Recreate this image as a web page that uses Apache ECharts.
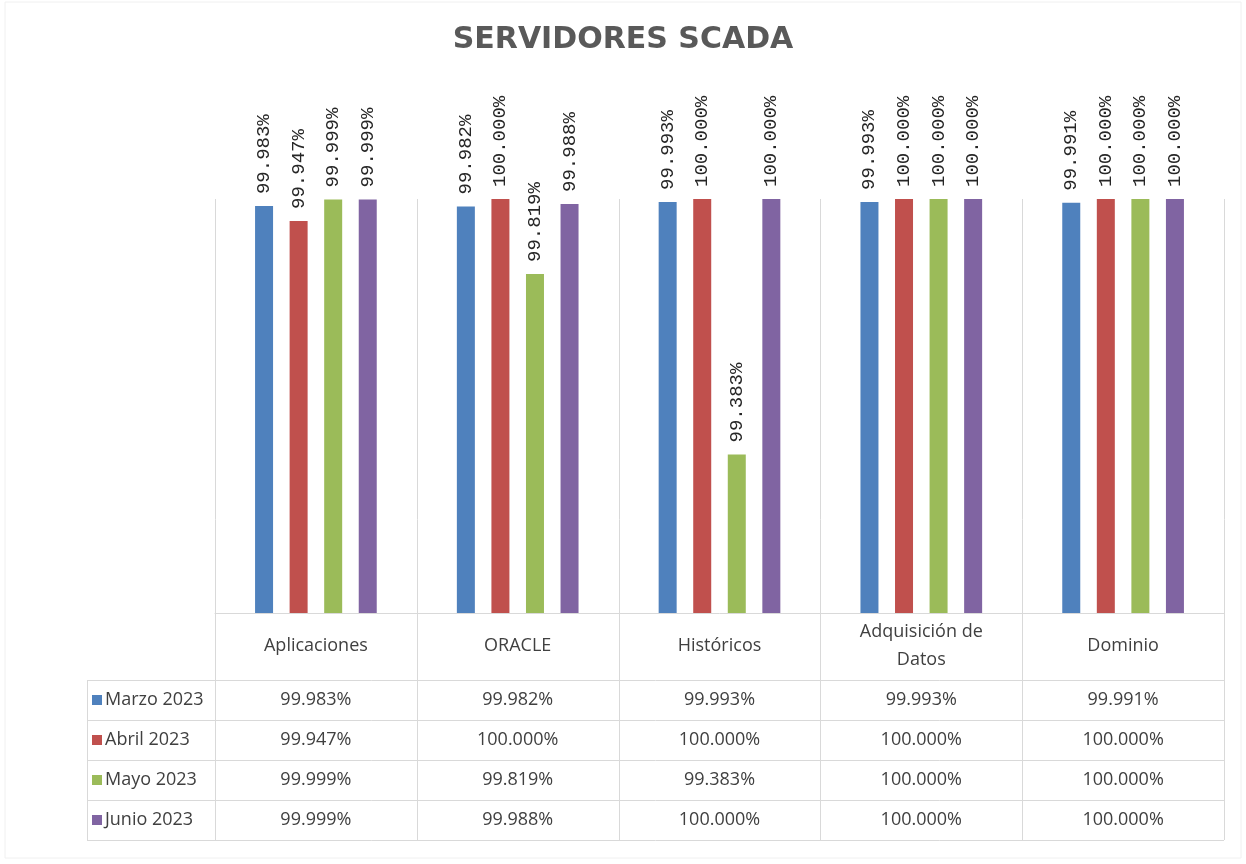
<!DOCTYPE html>
<html><head><meta charset="utf-8">
<script src="https://cdn.jsdelivr.net/npm/echarts@6/dist/echarts.min.js"></script>
<style>html,body{margin:0;padding:0;background:#fff}#c{width:1246px;height:864px}</style>
</head><body><div id="c"></div>
<script>
const categories = ['Aplicaciones', 'ORACLE', 'Históricos', 'Adquisición de\nDatos', 'Dominio'];
const seriesNames = ['Marzo 2023', 'Abril 2023', 'Mayo 2023', 'Junio 2023'];
const marzo = [99.983, 99.982, 99.993, 99.993, 99.991];
const abril = [99.947, 100.000, 100.000, 100.000, 100.000];
const mayo  = [99.999, 99.819, 99.383, 100.000, 100.000];
const junio = [99.999, 99.988, 100.000, 100.000, 100.000];
const colors = ['#4F81BD', '#C0504D', '#9BBB59', '#8064A2'];
const allSeries = [marzo, abril, mayo, junio];

const fmt = v => v.toFixed(3) + '%';
const chart = echarts.init(document.getElementById('c'));
const GL = 215, GR = 22, GT = 199, GB = 251;
const W = 1246, H = 864;

chart.setOption({
  animation: false,
  title: {
    text: 'SERVIDORES SCADA', left: 'center', top: 20,
    textStyle: { fontFamily: 'DejaVu Sans', fontWeight: 'bold', fontSize: 30, color: '#595959' }
  },
  grid: { left: GL, right: GR, top: GT, bottom: GB },
  xAxis: {
    type: 'category', data: categories,
    axisLine: { show: true, lineStyle: { color: '#d9d9d9' } },
    axisTick: { show: false }, axisLabel: { show: false }, splitLine: { show: false }
  },
  yAxis: { type: 'value', min: 99, max: 100, show: false },
  series: allSeries.map((d, i) => ({
    type: 'bar', name: seriesNames[i], data: d, barWidth: 18, barGap: '92%',
    itemStyle: { color: colors[i] },
    label: {
      show: true, position: 'top', rotate: 90, align: 'left', verticalAlign: 'middle',
      distance: 12, fontFamily: 'Liberation Mono', fontSize: 19, color: '#262626',
      formatter: p => fmt(p.value)
    }
  }))
});

const plotW = W - GL - GR;
const band = plotW / categories.length;
const right = GL + plotW;
const rowTop = 680, rowH = 40, tableLeft = 87;
const g = [];
const lineStyle = { stroke: '#d9d9d9', lineWidth: 1 };
g.push({ type: 'rect', shape: { x: 5, y: 2, width: W - 10, height: 856 }, style: { fill: 'none', stroke: '#f0f0f0', lineWidth: 1 } });
for (let k = 0; k <= categories.length; k++) {
  const x = Math.round(GL + k * band) + 0.5;
  g.push({ type: 'line', shape: { x1: x, y1: GT, x2: x, y2: rowTop + 4 * rowH }, style: lineStyle });
}
for (let r = 0; r <= 4; r++) {
  const y = rowTop + r * rowH + 0.5;
  g.push({ type: 'line', shape: { x1: tableLeft, y1: y, x2: right, y2: y }, style: lineStyle });
}
g.push({ type: 'line', shape: { x1: tableLeft + 0.5, y1: rowTop, x2: tableLeft + 0.5, y2: rowTop + 4 * rowH }, style: lineStyle });

const tf = { fontFamily: 'Open Sans', fontSize: 18, fill: '#404040' };
categories.forEach((c, j) => {
  const cx = chart.convertToPixel({ xAxisIndex: 0 }, j);
  g.push({ type: 'text', x: cx, y: 646, style: Object.assign({ text: c, align: 'center', verticalAlign: 'middle', lineHeight: 28 }, tf) });
  allSeries.forEach((d, i) => {
    g.push({ type: 'text', x: cx, y: rowTop + i * rowH + rowH / 2, style: Object.assign({ text: fmt(d[j]), align: 'center', verticalAlign: 'middle' }, tf) });
  });
});
seriesNames.forEach((n, i) => {
  const cy = rowTop + i * rowH + rowH / 2;
  g.push({ type: 'rect', shape: { x: 92, y: cy - 5, width: 10, height: 10 }, style: { fill: colors[i] } });
  g.push({ type: 'text', x: 105, y: cy, style: Object.assign({ text: n, align: 'left', verticalAlign: 'middle' }, tf) });
});
chart.setOption({ graphic: g });
</script></body></html>
